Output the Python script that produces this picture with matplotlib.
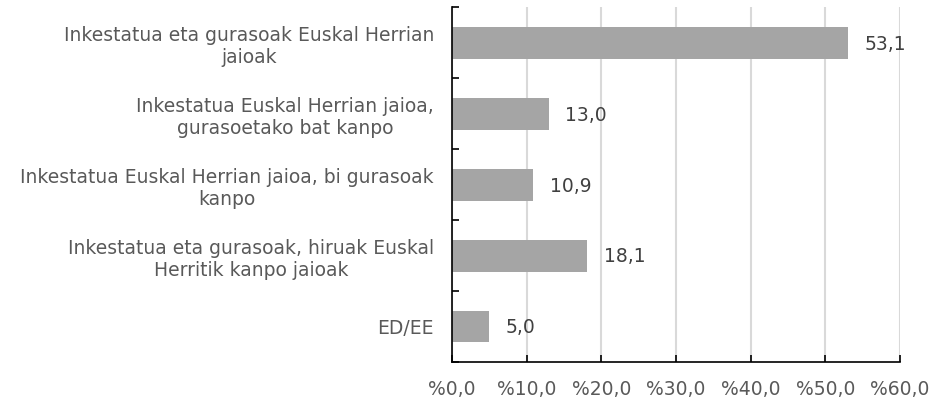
import matplotlib.pyplot as plt

categories = [
    "Inkestatua eta gurasoak Euskal Herrian\njaioak",
    "Inkestatua Euskal Herrian jaioa,\ngurasoetako bat kanpo",
    "Inkestatua Euskal Herrian jaioa, bi gurasoak\nkanpo",
    "Inkestatua eta gurasoak, hiruak Euskal\nHerritik kanpo jaioak",
    "ED/EE",
]
values = [53.1, 13.0, 10.9, 18.1, 5.0]
xticks = [0, 10, 20, 30, 40, 50, 60]

text_color = "#595959"
fs = 13.5

fig = plt.figure(figsize=(9.47, 4.0), dpi=100)
ax = fig.add_axes([0.4773, 0.095, 0.473, 0.887])

pos = list(range(len(categories)))
ax.barh(pos, values, height=0.45, color="#A5A5A5", zorder=2)
ax.set_ylim(len(categories) - 0.5, -0.5)
ax.set_xlim(0, 60)

for p, v in zip(pos, values):
    ax.text(v + 2.2, p + 0.02, f"{v:.1f}".replace(".", ","), va="center", ha="left",
            fontsize=fs, color="#404040")

ax.set_xticks(xticks)
ax.set_xticklabels([f"%{t:.1f}".replace(".", ",") for t in xticks], fontsize=fs, color=text_color)
ax.set_yticks(pos)
ax.set_yticklabels(categories, fontsize=fs, color=text_color, multialignment="center")
ax.tick_params(axis="y", length=0, pad=13)
ax.set_yticks([p - 0.5 for p in pos] + [len(pos) - 0.5], minor=True)
ax.tick_params(axis="y", which="minor", direction="in", length=5, width=1.2, color="black")
ax.tick_params(axis="x", direction="in", length=5, width=1.2, color="black", pad=13)

ax.grid(axis="x", color="#D9D9D9", linewidth=1.5, zorder=0)
for s in ["top", "right"]:
    ax.spines[s].set_visible(False)
for s in ["left", "bottom"]:
    ax.spines[s].set_linewidth(1.2)
    ax.spines[s].set_color("black")

fig.savefig("out.png", dpi=100)
